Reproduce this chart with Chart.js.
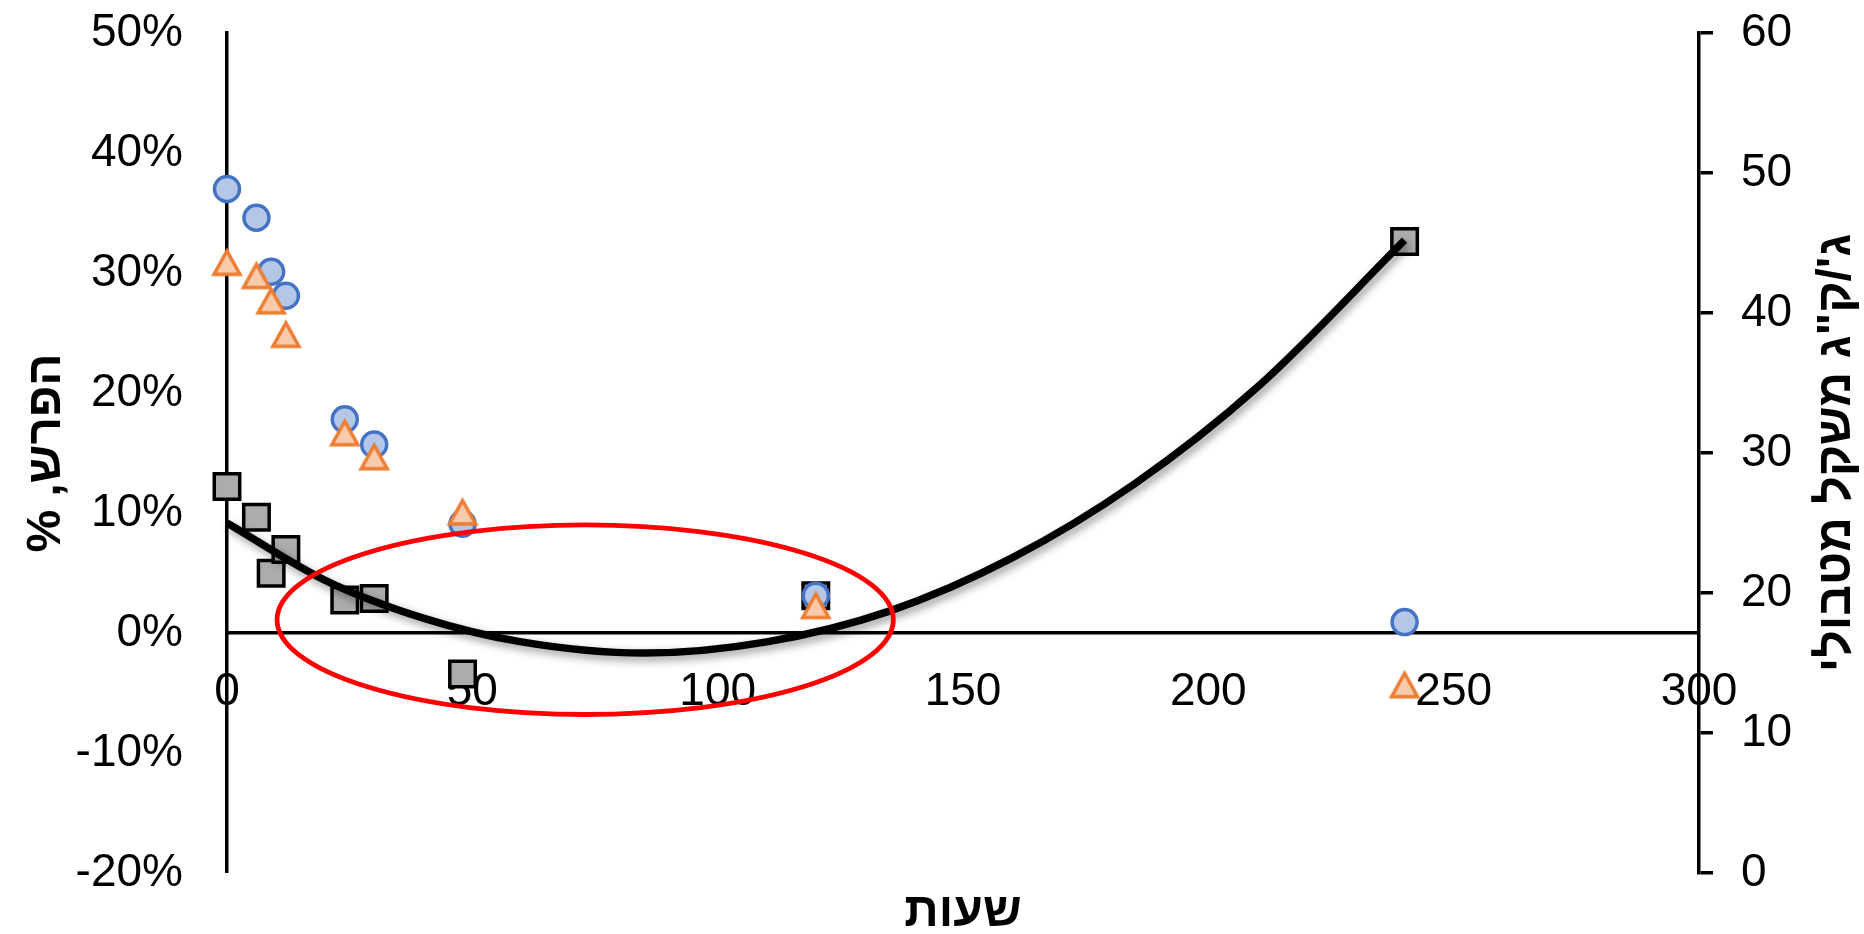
<!DOCTYPE html>
<html>
<head>
<meta charset="utf-8">
<title>שעות</title>
<script src="https://cdn.jsdelivr.net/npm/chart.js@4/dist/chart.umd.min.js"></script>
<style>
  html, body { margin: 0; padding: 0; background: #fff; }
  #wrap { width: 1864px; height: 934px; }
</style>
</head>
<body>
<div id="wrap"><canvas id="myChart"></canvas></div>
<script>
//data
const hours = [0, 6, 9, 12, 24, 30, 48, 120, 240];
const diffBlue = [37.0, 34.6, 30.1, 28.1, 17.8, 15.7, 9.1, 3.1, 0.9];
const diffOrange = [30.8, 29.7, 27.6, 24.8, 16.6, 14.6, 10.0, 2.2, -4.4];
const weight = [27.6, 25.4, 21.4, 23.1, 19.5, 19.6, 14.2, 19.8, 45.1];

//black trend curve
const trendHours = [0, 20, 40, 60, 85, 110, 135, 160, 185, 210, 240];
const trendWeight = [25.0, 20.9, 18.2, 16.5, 15.7, 16.5, 18.7, 22.5, 27.8, 34.7, 45.2];

//axis ranges [min, max, step]
const hourRange = [0, 300, 50];
const diffRange = [-20, 50, 10];
const weightRange = [0, 60, 10];

//texts
const xTitle = 'שעות';
const leftTitle = 'הפרש, %\u200F';
const rightTitle = 'ג\'/ק"ג משקל מטבולי';

//red ring, centre and radii in axis units (x: hours, y: %)
const ring = { x: 73, y: 1.1, rx: 62.8, ry: 7.9 };

const family = "'Liberation Sans', Arial, sans-serif";
const toPoints = (xs, ys) => xs.map((h, i) => ({ x: h, y: ys[i] }));

//excel style triangle marker
const makeTriangle = () => {
  const c = document.createElement('canvas');
  c.width = 36;
  c.height = 36;
  const g = c.getContext('2d');
  g.beginPath();
  g.moveTo(18, 5.5);
  g.lineTo(31, 29);
  g.lineTo(5, 29);
  g.closePath();
  g.fillStyle = '#F8CBAD';
  g.fill();
  g.lineWidth = 3.5;
  g.strokeStyle = '#ED7D31';
  g.stroke();
  return c;
};

//soft shadow under the trend line
const trendShadow = {
  id: 'trendShadow',
  beforeDatasetDraw(chart, args) {
    if (args.index !== 2) return;
    const ctx = chart.ctx;
    ctx.save();
    ctx.shadowColor = 'rgba(0,0,0,0.4)';
    ctx.shadowBlur = 8;
    ctx.shadowOffsetX = 3;
    ctx.shadowOffsetY = 4;
  },
  afterDatasetDraw(chart, args) {
    if (args.index === 2) chart.ctx.restore();
  }
};

//red ring + right axis title (reads bottom to top, like the left one)
const extras = {
  id: 'extras',
  afterDraw(chart) {
    const ctx = chart.ctx;
    const { x, y, y1 } = chart.scales;
    const cx = x.getPixelForValue(ring.x);
    const cy = y.getPixelForValue(ring.y);
    const rx = x.getPixelForValue(ring.x + ring.rx) - cx;
    const ry = cy - y.getPixelForValue(ring.y + ring.ry);
    ctx.save();
    ctx.strokeStyle = '#FF0000';
    ctx.lineWidth = 4.8;
    ctx.beginPath();
    ctx.ellipse(cx, cy, rx, ry, 0, 0, Math.PI * 2);
    ctx.stroke();

    ctx.translate(y1.right - 27, (chart.chartArea.top + chart.chartArea.bottom) / 2);
    ctx.rotate(-Math.PI / 2);
    ctx.font = 'bold 48px ' + family;
    ctx.fillStyle = '#000';
    ctx.textAlign = 'center';
    ctx.textBaseline = 'middle';
    ctx.fillText(rightTitle, 0, 0);
    ctx.restore();
  }
};

const tickFont = { family: family, size: 46 };

//y axes: fixed widths, no extra vertical padding from the labels
const fixWidth = (w) => (s) => {
  s.width = w;
  s.paddingTop = 0;
  s.paddingBottom = 0;
};

const ctx = document.getElementById('myChart').getContext('2d');
window.myChart = new Chart(ctx, {
  type: 'scatter',
  data: {
    datasets: [
      {
        label: 'orange',
        data: toPoints(hours, diffOrange),
        yAxisID: 'y',
        pointStyle: makeTriangle(),
        pointRadius: 15,
        clip: false
      },
      {
        label: 'blue',
        data: toPoints(hours, diffBlue),
        yAxisID: 'y',
        pointStyle: 'circle',
        pointRadius: 12.5,
        borderWidth: 3.5,
        borderColor: '#4472C4',
        backgroundColor: '#B4C7E7',
        clip: false
      },
      {
        type: 'line',
        label: 'trend',
        data: toPoints(trendHours, trendWeight),
        yAxisID: 'y1',
        borderColor: '#000',
        borderWidth: 7.5,
        pointRadius: 0,
        cubicInterpolationMode: 'monotone',
        fill: false,
        clip: false
      },
      {
        label: 'weight',
        data: toPoints(hours, weight),
        yAxisID: 'y1',
        pointStyle: 'rect',
        pointRadius: 18,
        borderWidth: 3.5,
        borderColor: '#000',
        backgroundColor: '#AEABAB',
        clip: false
      }
    ]
  },
  options: {
    responsive: true,
    maintainAspectRatio: false,
    animation: false,
    events: [],
    layout: { padding: { top: 33, bottom: 0, left: 0, right: 0 } },
    plugins: {
      legend: { display: false },
      tooltip: { enabled: false },
      title: {
        display: true,
        position: 'bottom',
        fullSize: false,
        text: xTitle,
        color: '#000',
        font: { family: family, size: 48, weight: 'bold', lineHeight: 0.88 },
        padding: { top: 18.9, bottom: 0 }
      }
    },
    scales: {
      x: {
        type: 'linear',
        min: hourRange[0],
        max: hourRange[1],
        position: { y: 0 },
        grid: { display: false, drawTicks: false },
        border: { display: true, color: '#000', width: 3.5 },
        ticks: { stepSize: hourRange[2], padding: 32, color: '#000', font: tickFont, maxRotation: 0, autoSkip: false },
        afterFit: (s) => { s.height = 0; }
      },
      y: {
        position: 'left',
        min: diffRange[0],
        max: diffRange[1],
        grid: { display: false, drawTicks: false },
        border: { display: true, color: '#000', width: 3.5 },
        ticks: { stepSize: diffRange[2], padding: 44, color: '#000', font: tickFont, callback: (v) => v + '%' },
        title: {
          display: true,
          text: leftTitle,
          color: '#000',
          font: { family: family, size: 48, weight: 'bold' },
          padding: { top: 18, bottom: 0 }
        },
        afterFit: fixWidth(227)
      },
      y1: {
        position: 'right',
        min: weightRange[0],
        max: weightRange[1],
        grid: { drawOnChartArea: false, color: '#000', lineWidth: 3.5, tickLength: 14 },
        border: { display: true, color: '#000', width: 3.5 },
        ticks: { stepSize: weightRange[2], padding: 28, color: '#000', font: tickFont },
        afterFit: fixWidth(165)
      }
    }
  },
  plugins: [trendShadow, extras]
});
</script>
</body>
</html>
